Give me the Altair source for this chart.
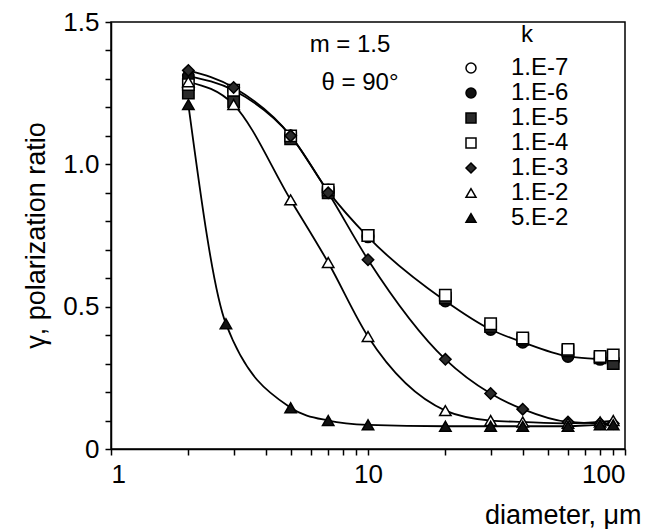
import altair as alt
import pandas as pd

# k labels and marker styling
k_labels = ["1.E-7", "1.E-6", "1.E-5", "1.E-4", "1.E-3", "1.E-2", "5.E-2"]
shapes = ["circle", "circle", "square", "square", "diamond", "triangle-up", "triangle-up"]
fills = ["white", "#111111", "#2a2a2a", "white", "#2a2a2a", "white", "#111111"]
strokes = ["black"] * 7

diam = [2, 3, 5, 7, 10, 20, 30, 40, 60, 80, 90]
diam_5e2 = [2, 2.8, 5, 7, 10, 20, 30, 40, 60, 80, 90]

g_1e7 = [1.30, 1.26, 1.10, 0.91, 0.75, 0.53, 0.43, 0.38, 0.335, 0.32, 0.31]
g_1e6 = [1.31, 1.26, 1.10, 0.905, 0.745, 0.52, 0.42, 0.375, 0.325, 0.315, 0.31]
g_1e5 = [1.25, 1.22, 1.09, 0.90, 0.75, 0.53, 0.43, 0.385, 0.345, 0.32, 0.30]
g_1e4 = [1.28, 1.26, 1.10, 0.91, 0.75, 0.54, 0.44, 0.39, 0.35, 0.325, 0.33]
g_1e3 = [1.33, 1.27, 1.10, 0.90, 0.665, 0.315, 0.195, 0.14, 0.095, 0.09, 0.09]
g_1e2 = [1.29, 1.21, 0.875, 0.655, 0.395, 0.135, 0.10, 0.095, 0.09, 0.095, 0.10]
g_5e2 = [1.21, 0.44, 0.145, 0.10, 0.085, 0.08, 0.08, 0.08, 0.08, 0.085, 0.085]

curve_keys = ["1.E-6", "1.E-3", "1.E-2", "5.E-2"]

series = {
    "1.E-7": (diam, g_1e7),
    "1.E-6": (diam, g_1e6),
    "1.E-5": (diam, g_1e5),
    "1.E-4": (diam, g_1e4),
    "1.E-3": (diam, g_1e3),
    "1.E-2": (diam, g_1e2),
    "5.E-2": (diam_5e2, g_5e2),
}
rows = []
for i, k in enumerate(k_labels):
    xs, ys = series[k]
    for d, g in zip(xs, ys):
        rows.append({"k": k, "order": i, "d": d, "g": g})
df = pd.DataFrame(rows)

x_ticks = [1, 2, 3, 4, 5, 6, 7, 8, 9, 10, 20, 30, 40, 50, 60, 70, 80, 90, 100]
y_ticks = [0, 0.1, 0.2, 0.3, 0.4, 0.5, 0.6, 0.7, 0.8, 0.9, 1.0, 1.1, 1.2, 1.3, 1.4, 1.5]

FONT = "Liberation Sans"

x_enc = alt.X(
    "d:Q",
    scale=alt.Scale(type="log", domain=[1, 100]),
    axis=alt.Axis(
        values=x_ticks,
        labelExpr="indexof([1,10,100], datum.value) >= 0 ? format(datum.value, 'd') : ''",
        labelOverlap=False,
        tickSize=6,
        title="diameter, \u03bcm",
        titleAnchor="end",
        titleAlign="right",
        titleX=530,
        titleY=74,
        titleBaseline="alphabetic",
        labelPadding=6,
        grid=False,
    ),
)
y_enc = alt.Y(
    "g:Q",
    scale=alt.Scale(domain=[0, 1.5]),
    axis=alt.Axis(
        values=y_ticks,
        labelExpr="datum.value == 0 ? '0' : (abs(datum.value*2 - round(datum.value*2)) < 0.001 ? format(datum.value, '.1f') : '')",
        labelOverlap=False,
        tickSize=6,
        title="\u03b3, polarization ratio",
        titleAngle=270,
        titleX=-67,
        titleY=213,
        titleAlign="center",
        titleBaseline="alphabetic",
        labelPadding=6,
        grid=False,
    ),
)

lines = alt.Chart(df).transform_filter(
    alt.FieldOneOfPredicate(field="k", oneOf=curve_keys)
).mark_line(color="black", strokeWidth=1.8, interpolate="monotone").encode(
    x=x_enc, y=y_enc, detail="k:N", order="d:Q"
)

points = alt.Chart(df).mark_point(
    filled=False, strokeWidth=1.5, size=130, opacity=1
).encode(
    x=x_enc,
    y=y_enc,
    shape=alt.Shape("k:N", scale=alt.Scale(domain=k_labels, range=shapes),
                    legend=alt.Legend(title=None)),
    fill=alt.Fill("k:N", scale=alt.Scale(domain=k_labels, range=fills),
                  legend=alt.Legend(title=None)),
    stroke=alt.Stroke("k:N", scale=alt.Scale(domain=k_labels, range=strokes),
                      legend=alt.Legend(title=None)),
    order="order:Q",
)

ann_text = ["m = 1.5", "\u03b8 = 90\u00b0", "k"]
ann_x = [239, 249, 416]
ann_y = [23, 61, 13]
ann = alt.Chart(pd.DataFrame({"t": ann_text, "px": ann_x, "py": ann_y})).mark_text(
    font=FONT, fontSize=24, color="black", align="center", baseline="middle"
).encode(x=alt.X("px:Q", scale=None), y=alt.Y("py:Q", scale=None), text="t:N")

chart = alt.layer(lines, points, ann).properties(
    width=514, height=427,
    autosize=alt.AutoSizeParams(type="none"),
    padding={"left": 103, "top": 14, "right": 16, "bottom": 80},
).configure_view(
    stroke="black", strokeWidth=1.5
).configure_axis(
    labelFont=FONT, titleFont=FONT, labelFontSize=26, titleFontSize=27,
    labelColor="black", titleColor="black", domainColor="black", tickColor="black",
    domainWidth=1.5, tickWidth=1.5, titleFontWeight="normal",
).configure_legend(
    orient="none", legendX=348, legendY=34, padding=0,
    labelFont=FONT, labelFontSize=24, labelColor="black", labelOffset=28,
    symbolSize=100, symbolStrokeColor="black", symbolStrokeWidth=1.5,
    rowPadding=1,
)

chart.save("out.html", embed_options={"renderer": "svg", "actions": False})
